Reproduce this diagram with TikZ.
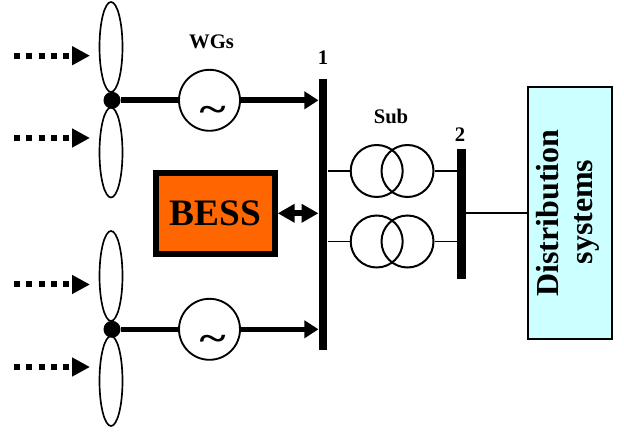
\documentclass[tikz,border=0pt]{standalone}
\usepackage{fontspec}
\setmainfont{Liberation Serif}
\usetikzlibrary{shapes.geometric,arrows.meta,calc}
\definecolor{bessfill}{HTML}{FF6600}
\definecolor{distfill}{HTML}{CCFFFF}
\newcommand{\fsz}[1]{\fontsize{#1}{#1}\selectfont\bfseries}
\tikzset{
  blade/.style={draw,ellipse,line width=1.25pt,inner sep=0pt,minimum width=17.25pt,minimum height=67.5pt,fill=white},
  hub/.style={circle,fill=black,inner sep=0pt,minimum size=12.75pt},
  gen/.style={draw,circle,line width=1.4pt,inner sep=0pt,minimum size=45.75pt,fill=white},
  busbar/.style={fill=black,inner sep=0pt},
  winding/.style={draw,circle,line width=1.5pt,inner sep=0pt,minimum size=39pt},
  feeder/.style={-{Triangle[length=10.5pt,width=12.75pt]}},
  wind/.style={line width=4.5pt,dash pattern=on 4.5pt off 4.7pt,-{Triangle[length=13.5pt,width=13.5pt]}},
  tilde/.style={font=\fsz{30},xscale=1.25,yscale=0.9},
  thin/.style={line width=1.4pt}
}
\begin{document}
\begin{tikzpicture}[x=0.75pt,y=-0.75pt]
\useasboundingbox (0,0) rectangle (624,434);
% buses
\node[busbar,minimum width=6.4pt,minimum height=203.25pt] (bus1) at (323,214.5) {};
\node[busbar,minimum width=6.4pt,minimum height=97.5pt] (bus2) at (461.5,214) {};
% turbine 1
\node[blade] (b1) at (111,47) {};
\node[blade] (b2) at (111,152.5) {};
\node[hub] (h1) at (112,100.3) {};
\node[gen] (g1) at (209.5,100.3) {};
\node[tilde] (t1) at (212.5,114) {\char`\~};
\coordinate (e1) at (g1 -| bus1.west);
\draw[feeder,line width=4.6pt] (g1.east) -- (e1);
\draw[line width=4.6pt] (h1) -- (g1.west);
% turbine 2
\node[blade] (b3) at (111,276) {};
\node[blade] (b4) at (111,381) {};
\node[hub] (h2) at (112,329.3) {};
\node[gen] (g2) at (209.5,329.3) {};
\node[tilde] (t2) at (212.5,343) {\char`\~};
\coordinate (e2) at (g2 -| bus1.west);
\draw[feeder,line width=4pt] (g2.east) -- (e2);
\draw[line width=4pt] (h2) -- (g2.west);
% wind arrows
\coordinate (w1s) at (14,55.7); \coordinate (w1e) at (90,55.7);
\coordinate (w2s) at (14,138); \coordinate (w2e) at (90,138);
\coordinate (w3s) at (14,284.5); \coordinate (w3e) at (90,284.5);
\coordinate (w4s) at (14,367); \coordinate (w4e) at (90,367);
\draw[wind] (w1s) -- (w1e);
\draw[wind] (w2s) -- (w2e);
\draw[wind] (w3s) -- (w3e);
\draw[wind] (w4s) -- (w4e);
% BESS
\node[draw,line width=4.5pt,fill=bessfill,minimum width=88.9pt,minimum height=60.75pt,inner sep=0pt,font=\fsz{28}] (bess) at (215.5,213.3) {BESS};
\coordinate (bb) at (bess.east -| bus1.west);
\draw[line width=4.7pt,{Triangle[length=12.6pt,width=13.3pt]}-{Triangle[length=12.6pt,width=13.3pt]}] (bess.east) -- (bb);
% substation
\node[winding] (t1a) at (376.7,171) {};
\node[winding] (t1b) at (407.5,171) {};
\node[winding] (t2a) at (376.7,241.5) {};
\node[winding] (t2b) at (407.5,241.5) {};
\draw[thin] (t1a.west) -- (t1a.west -| bus1.east);
\draw[thin] (t2a.west) -- (t2a.west -| bus1.east);
\draw[thin] (t1b.east) -- (t1b.east -| bus2.west);
\draw[thin] (t2b.east) -- (t2b.east -| bus2.west);
% distribution
\node[draw,line width=1.1pt,fill=distfill,minimum width=63pt,minimum height=189pt,inner sep=0pt] (dist) at (570,213) {};
\draw[thin] (bus2.east |- dist.west) -- (dist.west);
\node[rotate=90,font=\fsz{24},inner sep=0pt] (d1) at (548,213) {Distribution};
\node[rotate=90,font=\fsz{24},inner sep=0pt] (d2) at (587,212) {systems};
% labels
\node[font=\fsz{15.5},inner sep=0pt] (lw) at (211.5,42) {WGs};
\node[font=\fsz{15.5},inner sep=0pt] (l1) at (323,58) {1};
\node[font=\fsz{15.5},inner sep=0pt] (ls) at (391,116) {Sub};
\node[font=\fsz{15.5},inner sep=0pt] (l2) at (460,135) {2};
\end{tikzpicture}
\end{document}
